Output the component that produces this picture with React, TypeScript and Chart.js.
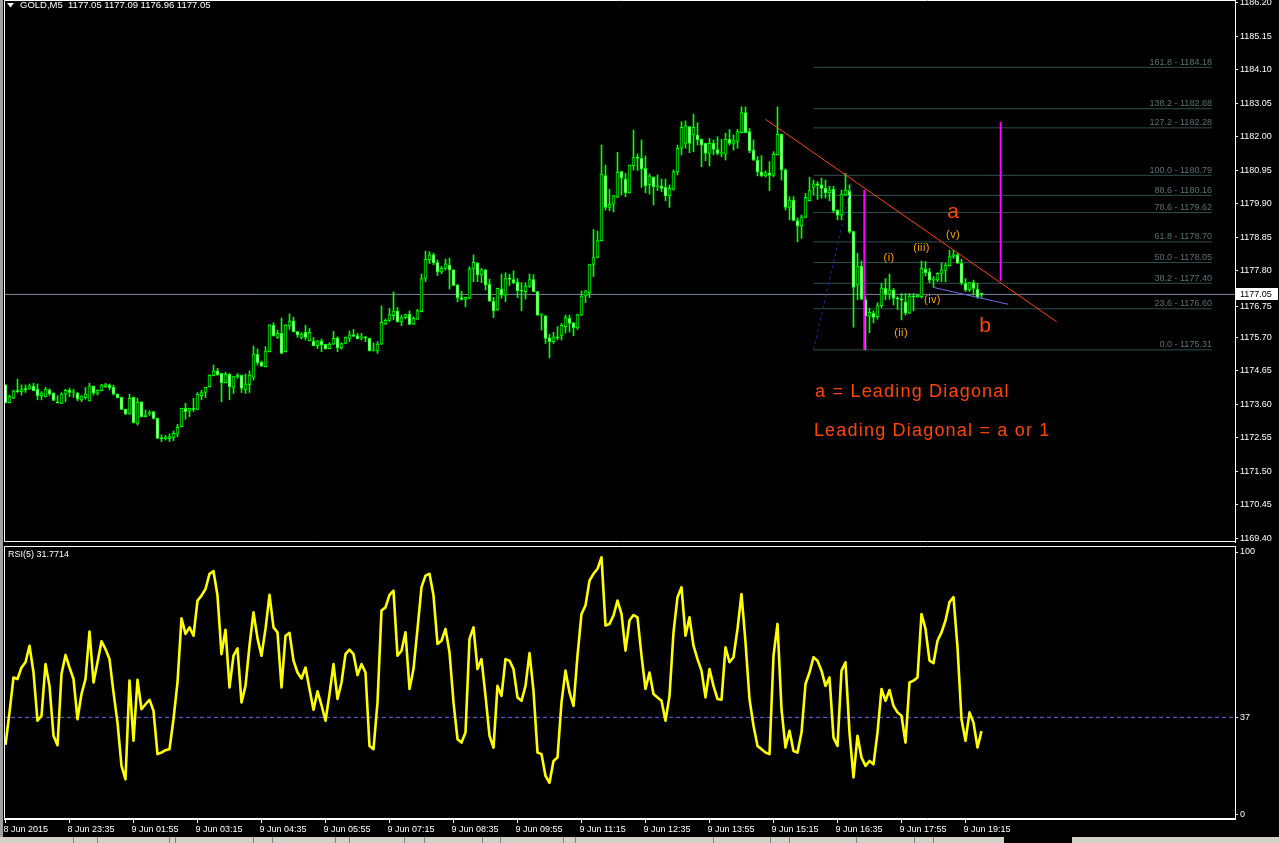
import React, { useEffect, useRef } from "react";
import { Chart, registerables } from "chart.js";

Chart.register(...registerables);

// ---------- DATA (GOLD, M5) ----------
const OPEN = [
  1174.21,1173.65,1173.79,1174.02,1174.00,1174.08,1174.08,1174.17,1174.07,1173.87,
  1173.84,1174.05,1173.95,1173.67,1173.63,1173.92,1174.05,1173.97,1173.95,1173.74,
  1173.81,1173.71,1174.17,1173.95,1174.03,1174.15,1174.21,1174.13,1173.92,1173.82,
  1173.44,1173.30,1173.82,1173.00,1173.67,1173.21,1173.30,1173.37,1173.16,1172.55,
  1172.52,1172.52,1172.56,1172.66,1172.90,1173.47,1173.39,1173.47,1173.44,1173.87,
  1173.97,1174.15,1174.50,1174.65,1174.57,1174.28,1174.55,1174.13,1174.47,1174.51,
  1174.05,1174.21,1174.45,1175.17,1174.92,1174.78,1175.25,1176.09,1175.70,1175.83,
  1175.25,1176.06,1176.22,1175.88,1175.70,1175.86,1175.60,1175.58,1175.44,1175.59,
  1175.48,1175.35,1175.49,1175.69,1175.36,1175.51,1175.67,1175.78,1175.76,1175.68,
  1175.72,1175.67,1175.28,1175.28,1175.49,1176.12,1176.23,1176.38,1176.53,1176.19,
  1176.32,1176.43,1176.12,1176.27,1176.51,1177.55,1178.13,1178.29,1178.05,1177.76,
  1177.87,1177.97,1177.82,1177.35,1176.95,1176.89,1176.93,1177.85,1178.03,1177.66,
  1177.82,1177.37,1176.84,1176.56,1177.22,1177.03,1177.55,1177.52,1177.44,1177.17,
  1177.14,1177.31,1177.52,1177.14,1176.40,1176.38,1175.69,1175.57,1175.72,1175.76,
  1176.04,1176.30,1176.16,1176.00,1176.40,1177.00,1177.10,1177.99,1178.21,1178.74,
  1180.78,1179.78,1179.88,1180.10,1180.91,1180.67,1180.24,1181.09,1181.35,1181.32,
  1181.01,1180.49,1180.73,1180.43,1180.45,1180.41,1180.14,1180.35,1180.90,1181.64,
  1181.80,1182.32,1182.06,1182.06,1181.92,1181.79,1181.48,1181.79,1181.60,1181.48,
  1181.45,1181.93,1181.79,1181.85,1182.13,1182.76,1182.16,1181.58,1181.27,1180.90,
  1180.77,1180.87,1180.79,1181.43,1182.08,1180.96,1179.78,1180.01,1179.37,1179.20,
  1179.47,1179.99,1180.41,1180.52,1180.49,1180.38,1180.24,1180.35,1179.70,1179.54,
  1180.17,1180.33,1179.02,1177.35,1177.94,1176.88,1176.37,1176.46,1176.35,1176.70,
  1177.24,1177.06,1177.19,1176.93,1176.91,1176.82,1176.46,1177.00,1176.97,1176.98,
  1177.84,1177.76,1177.50,1177.50,1177.71,1177.80,1177.95,1178.24,1178.29,1178.03,
  1177.40,1177.19,1177.42,1177.21,1177.05,
];
const HIGH = [
  1174.22,1173.89,1174.04,1174.39,1174.21,1174.21,1174.24,1174.26,1174.24,1174.00,
  1174.13,1174.09,1173.96,1173.87,1173.97,1174.07,1174.11,1174.07,1173.97,1173.87,
  1174.13,1174.26,1174.18,1174.06,1174.22,1174.26,1174.24,1174.20,1173.93,1173.83,
  1173.45,1173.92,1173.83,1173.79,1173.69,1173.42,1173.40,1173.38,1173.17,1172.64,
  1172.62,1172.67,1172.76,1172.97,1173.48,1173.63,1173.48,1173.79,1173.97,1174.04,
  1174.14,1174.53,1174.83,1174.73,1174.58,1174.61,1174.56,1174.48,1174.57,1174.52,
  1174.55,1174.65,1175.43,1175.34,1174.96,1175.41,1176.10,1176.16,1175.93,1176.31,
  1176.10,1176.44,1176.33,1175.89,1175.85,1176.08,1175.98,1175.70,1175.60,1175.65,
  1175.49,1175.54,1175.89,1175.72,1175.53,1175.71,1175.90,1175.95,1175.83,1175.83,
  1175.73,1175.68,1175.53,1175.57,1176.69,1176.28,1176.61,1177.13,1176.64,1176.40,
  1176.43,1176.53,1176.35,1176.58,1177.69,1178.41,1178.39,1178.35,1178.13,1177.93,
  1178.16,1178.19,1177.83,1177.36,1177.15,1176.97,1177.92,1178.29,1178.06,1177.87,
  1177.83,1177.53,1176.96,1177.25,1177.69,1177.73,1177.69,1177.79,1177.55,1177.42,
  1177.42,1177.69,1177.67,1177.15,1176.45,1176.39,1175.80,1175.86,1176.04,1176.14,
  1176.40,1176.40,1176.17,1176.43,1177.16,1177.17,1178.00,1179.09,1179.04,1181.74,
  1181.11,1180.35,1180.16,1181.51,1180.92,1180.85,1181.12,1182.21,1181.46,1181.90,
  1181.40,1180.83,1180.74,1180.80,1180.67,1180.67,1180.49,1180.96,1181.74,1182.47,
  1182.50,1182.33,1182.71,1182.44,1181.93,1181.80,1181.95,1181.90,1182.00,1181.92,
  1182.11,1182.23,1182.06,1182.23,1182.94,1182.94,1182.26,1181.90,1181.38,1181.41,
  1180.93,1181.22,1181.53,1182.94,1182.09,1180.99,1180.12,1180.12,1179.45,1179.54,
  1180.22,1180.73,1180.64,1180.59,1180.70,1180.64,1180.45,1180.45,1179.71,1180.33,
  1180.85,1180.49,1179.04,1178.34,1178.10,1176.98,1176.61,1176.54,1176.79,1177.40,
  1177.55,1177.69,1177.24,1176.98,1177.08,1177.08,1177.08,1177.08,1177.06,1178.10,
  1178.08,1177.87,1177.61,1177.73,1178.03,1178.03,1178.44,1178.44,1178.34,1178.15,
  1177.55,1177.43,1177.50,1177.40,1177.09,
];
const LOW = [
  1173.64,1173.64,1173.78,1173.97,1173.89,1173.97,1174.07,1174.02,1173.74,1173.74,
  1173.83,1173.88,1173.71,1173.63,1173.62,1173.68,1173.84,1173.82,1173.71,1173.68,
  1173.76,1173.70,1173.89,1173.89,1174.02,1174.13,1174.05,1173.89,1173.80,1173.43,
  1173.28,1173.29,1173.01,1172.95,1173.20,1173.20,1173.25,1173.13,1172.52,1172.43,
  1172.48,1172.43,1172.46,1172.58,1172.89,1173.13,1173.21,1173.37,1173.43,1173.74,
  1173.81,1174.14,1174.49,1174.51,1173.68,1174.27,1173.74,1173.94,1174.41,1173.97,
  1173.94,1173.97,1174.36,1174.83,1174.79,1174.77,1175.24,1175.74,1175.67,1175.19,
  1175.24,1175.95,1175.87,1175.70,1175.65,1175.62,1175.59,1175.43,1175.35,1175.25,
  1175.33,1175.34,1175.48,1175.25,1175.33,1175.50,1175.57,1175.72,1175.65,1175.62,
  1175.57,1175.27,1175.27,1175.20,1175.48,1176.10,1176.20,1176.25,1176.18,1176.07,
  1176.28,1176.10,1176.11,1176.26,1176.50,1177.45,1178.02,1177.98,1177.64,1177.70,
  1177.82,1177.22,1177.32,1176.82,1176.87,1176.66,1176.92,1177.45,1177.45,1177.42,
  1177.19,1176.83,1176.32,1176.55,1176.93,1176.82,1177.33,1177.38,1176.95,1176.54,
  1176.90,1177.27,1177.13,1176.39,1175.93,1175.51,1175.06,1175.51,1175.62,1175.62,
  1175.84,1175.87,1175.75,1175.95,1176.39,1176.79,1176.95,1177.61,1178.20,1178.73,
  1179.70,1179.68,1179.64,1180.09,1180.17,1180.12,1180.23,1180.96,1180.94,1180.41,
  1180.24,1180.20,1179.86,1180.31,1180.27,1179.99,1179.78,1180.33,1180.80,1181.43,
  1181.64,1181.50,1181.53,1181.74,1181.06,1181.25,1181.08,1181.43,1181.43,1181.37,
  1181.27,1181.74,1181.58,1181.64,1182.12,1182.12,1181.50,1181.25,1180.77,1180.75,
  1180.73,1180.31,1180.75,1181.42,1180.64,1179.70,1179.39,1179.36,1178.70,1178.81,
  1179.46,1179.98,1180.17,1180.03,1180.07,1180.07,1179.99,1179.62,1179.39,1179.39,
  1180.16,1178.97,1176.02,1176.88,1176.89,1175.31,1175.85,1176.16,1176.27,1176.64,
  1176.88,1176.90,1176.72,1176.58,1176.25,1176.40,1176.45,1176.54,1176.95,1176.93,
  1177.63,1177.42,1177.27,1177.45,1177.45,1177.45,1177.94,1178.18,1178.02,1177.35,
  1177.14,1177.14,1177.03,1176.93,1176.96,
];
const CLOSE = [
  1173.65,1173.84,1174.02,1174.00,1174.08,1174.06,1174.18,1174.03,1173.87,1173.95,
  1174.08,1173.92,1173.72,1173.65,1173.92,1174.04,1173.97,1174.00,1173.76,1173.86,
  1173.92,1174.18,1173.95,1174.05,1174.21,1174.22,1174.12,1173.92,1173.81,1173.44,
  1173.29,1173.79,1173.02,1173.67,1173.21,1173.27,1173.34,1173.16,1172.53,1172.52,
  1172.57,1172.59,1172.69,1172.88,1173.47,1173.37,1173.47,1173.44,1173.91,1173.97,
  1174.13,1174.52,1174.65,1174.52,1174.28,1174.55,1174.15,1174.47,1174.51,1174.10,
  1174.24,1174.52,1175.18,1174.91,1174.80,1175.27,1176.09,1175.75,1175.83,1175.20,
  1176.09,1176.22,1175.88,1175.78,1175.81,1175.70,1175.86,1175.44,1175.59,1175.46,
  1175.34,1175.49,1175.67,1175.38,1175.51,1175.70,1175.78,1175.74,1175.66,1175.72,
  1175.69,1175.28,1175.31,1175.49,1176.17,1176.24,1176.42,1176.53,1176.19,1176.32,
  1176.42,1176.11,1176.30,1176.54,1177.55,1178.15,1178.29,1178.05,1177.76,1177.87,
  1178.01,1177.82,1177.33,1176.95,1176.89,1176.96,1177.85,1178.06,1177.66,1177.82,
  1177.35,1176.84,1176.53,1177.24,1177.03,1177.55,1177.53,1177.42,1177.17,1177.15,
  1177.31,1177.52,1177.14,1176.40,1176.42,1175.67,1175.57,1175.72,1175.68,1176.09,
  1176.32,1176.14,1176.00,1176.42,1177.00,1177.16,1177.99,1178.21,1178.74,1180.83,
  1179.78,1179.88,1180.15,1180.88,1180.70,1180.24,1181.11,1181.35,1181.33,1180.98,
  1180.46,1180.77,1180.43,1180.45,1180.38,1180.14,1180.38,1180.90,1181.64,1182.30,
  1182.34,1181.79,1182.30,1181.90,1181.74,1181.48,1181.79,1181.60,1181.48,1181.50,
  1181.93,1181.79,1181.88,1182.16,1182.76,1182.13,1181.56,1181.27,1180.90,1180.77,
  1180.87,1180.79,1181.45,1182.08,1180.96,1179.78,1180.01,1179.37,1179.20,1179.49,
  1180.10,1180.31,1180.52,1180.47,1180.38,1180.24,1180.33,1179.68,1179.54,1180.20,
  1180.33,1179.02,1177.27,1177.94,1176.90,1176.37,1176.49,1176.33,1176.70,1177.26,
  1177.06,1177.19,1176.93,1176.91,1176.87,1176.46,1177.00,1176.97,1177.03,1177.87,
  1177.73,1177.50,1177.54,1177.71,1177.82,1177.97,1178.24,1178.29,1178.03,1177.40,
  1177.19,1177.42,1177.24,1176.96,1177.05,
];
const RSI = [
  26.5,38.9,52.2,51.6,56.0,58.0,64.3,54.1,35.7,37.6,
  57.3,49.0,30.0,26.4,53.5,60.8,56.0,51.6,36.3,45.9,
  51.6,69.7,50.3,58.0,66.0,63.0,59.2,46.5,35.0,18.5,
  13.4,51.0,28.1,51.3,40.1,42.0,43.7,39.5,23.0,23.6,
  24.5,24.9,36.3,50.3,74.7,68.8,71.3,68.1,81.5,83.4,
  85.9,91.7,92.7,83.4,61.1,70.4,48.4,60.5,63.3,42.7,
  49.0,64.3,77.0,67.1,60.5,70.7,83.7,71.3,69.4,48.4,
  68.1,69.2,58.6,54.1,51.8,56.0,47.8,39.9,46.9,41.7,
  35.7,45.9,57.3,44.0,50.3,61.1,62.8,61.1,53.1,57.3,
  54.1,26.1,24.9,42.7,77.7,78.9,83.7,85.3,60.5,62.4,
  69.4,47.8,55.4,70.7,86.6,91.0,91.7,83.4,65.0,66.2,
  70.7,61.8,42.7,28.7,27.4,31.2,66.9,71.3,55.4,59.2,
  45.2,30.0,25.5,49.0,45.2,59.2,58.6,55.4,44.6,43.3,
  49.0,61.5,47.1,23.6,23.0,14.7,12.1,20.4,21.7,42.7,
  54.8,46.5,41.4,60.5,76.4,79.6,89.1,91.7,93.6,98.0,
  72.0,72.6,75.8,81.5,76.4,62.4,73.9,76.0,75.1,60.5,
  47.8,54.1,45.9,44.6,43.3,35.7,45.2,69.4,82.8,86.6,
  68.1,75.1,64.3,59.2,54.8,44.6,55.4,49.0,44.0,43.7,
  63.7,58.0,59.9,70.7,84.0,65.6,44.0,33.8,26.1,24.9,
  23.6,23.0,60.5,72.6,40.1,25.5,31.9,24.2,23.6,31.2,
  49.7,54.1,59.9,58.6,54.8,49.0,52.2,29.3,26.1,54.8,
  58.0,31.2,14.1,30.0,21.7,18.5,20.4,19.1,31.2,47.8,
  43.3,47.4,41.4,38.9,37.6,27.4,50.3,51.0,52.2,76.4,
  70.7,58.6,57.7,66.2,69.4,73.9,80.9,82.8,63.7,36.3,
  28.1,38.9,35.0,25.5,31.77,
];

const PRICE_TICKS = [
  1186.2, 1185.15, 1184.1, 1183.05, 1182.0, 1180.95, 1179.9, 1178.85, 1177.8,
  1176.75, 1175.7, 1174.65, 1173.6, 1172.55, 1171.5, 1170.45, 1169.4,
];
const RSI_TICKS = [0, 37, 100];
const RSI_LEVEL = 37;
const TIME_TICK_BARS = [0, 16, 32, 48, 64, 80, 96, 112, 128, 144, 160, 176, 192, 208, 224, 240];
const TIME_LABELS = [
  "8 Jun 2015", "8 Jun 23:35", "9 Jun 01:55", "9 Jun 03:15", "9 Jun 04:35", "9 Jun 05:55",
  "9 Jun 07:15", "9 Jun 08:35", "9 Jun 09:55", "9 Jun 11:15", "9 Jun 12:35", "9 Jun 13:55",
  "9 Jun 15:15", "9 Jun 16:35", "9 Jun 17:55", "9 Jun 19:15",
];
const CURRENT_PRICE = 1177.05;
const TITLE_SYMBOL = "GOLD,M5";
const TITLE_OHLC = "1177.05 1177.09 1176.96 1177.05";
const RSI_TITLE = "RSI(5) 31.7714";

// Fibonacci retracement
const FIB_LEVELS = [161.8, 138.2, 127.2, 100.0, 88.6, 78.6, 61.8, 50.0, 38.2, 23.6, 0.0];
const FIB_PRICES = [1184.18, 1182.88, 1182.28, 1180.79, 1180.16, 1179.62, 1178.7, 1178.05, 1177.4, 1176.6, 1175.31];
const FIB_START_BAR = 202;
const FIB_END_BAR = 301.6;
const FIB_BASE = [[202, 1175.31], [212, 1180.79]];

// drawn objects (bar index, price)
const TREND_RED = [[190, 1182.55], [262.8, 1176.19]];
const TREND_BLUE = [[232, 1177.27], [250.7, 1176.74]];
const MAGENTA_1 = [[214.7, 1180.33], [214.7, 1175.31]];
const MAGENTA_2 = [[248.8, 1182.47], [248.8, 1177.48]];
const WAVE_TEXT = ["(i)", "(ii)", "(iii)", "(iv)", "(v)"];
const WAVE_BAR = [220.9, 223.9, 229.0, 231.75, 236.9];
const WAVE_PRICE = [1178.19, 1175.84, 1178.51, 1176.87, 1178.93];
const BIG_TEXT = ["a", "b"];
const BIG_BAR = [236.9, 244.9];
const BIG_PRICE = [1179.62, 1176.06];
const NOTES = ["a = Leading Diagonal", "Leading Diagonal = a or 1"];
const NOTE_BAR = [202.4, 202.1];
const NOTE_PRICE = [1173.99, 1172.76];

const TAB_SEPARATORS = [73, 97, 169, 175, 253, 272, 335, 349, 404, 424, 482, 500, 563, 575, 713, 770, 789, 856, 914, 933];

// ---------- layout constants ----------
const FONT = '"Liberation Sans", Arial, sans-serif';
const X_MIN = -0.375;
const X_MAX = 307.375;
const Y_MIN = 1169.277;
const Y_MAX = 1186.294;
const R_MIN = -1.72;
const R_MAX = 102.29;

const seg = (pts: number[][]) => pts.map(([x, y]) => ({ x, y }));
const lineDs = (pts: number[][], color: string, width: number, order: number, dash: number[] = []) => ({
  type: "line" as const,
  data: seg(pts),
  borderColor: color,
  borderWidth: width,
  borderDash: dash,
  pointRadius: 0,
  pointHoverRadius: 0,
  tension: 0,
  fill: false,
  order,
});

const noPad = (s: any) => {
  s.paddingTop = 0;
  s.paddingBottom = 0;
  s.paddingLeft = 0;
  s.paddingRight = 0;
};

const framePlugin = {
  id: "frame",
  afterDraw(chart: any) {
    const { ctx, chartArea: a } = chart;
    ctx.save();
    ctx.strokeStyle = "#ffffff";
    ctx.lineWidth = 1;
    ctx.beginPath();
    ctx.moveTo(a.right, a.top + 0.5);
    ctx.lineTo(a.left + 0.5, a.top + 0.5);
    ctx.lineTo(a.left + 0.5, a.bottom - 0.5);
    ctx.lineTo(a.right, a.bottom - 0.5);
    ctx.stroke();
    ctx.restore();
  },
};

const mainOverlay = {
  id: "mainOverlay",
  afterDraw(chart: any) {
    const { ctx } = chart;
    const x = chart.scales.x;
    const y = chart.scales.y;
    ctx.save();
    // fib labels
    ctx.font = `9px ${FONT}`;
    ctx.fillStyle = "#5a7272";
    ctx.textAlign = "right";
    ctx.textBaseline = "alphabetic";
    FIB_LEVELS.forEach((lv, k) => {
      ctx.fillText(`${lv.toFixed(1)} - ${FIB_PRICES[k].toFixed(2)}`, x.getPixelForValue(FIB_END_BAR), y.getPixelForValue(FIB_PRICES[k]) - 2.5);
    });
    // wave labels
    ctx.font = `11px ${FONT}`;
    ctx.fillStyle = "#ffa500";
    ctx.textAlign = "center";
    ctx.textBaseline = "middle";
    (ctx as any).letterSpacing = "0.4px";
    WAVE_TEXT.forEach((t, k) => ctx.fillText(t, x.getPixelForValue(WAVE_BAR[k]), y.getPixelForValue(WAVE_PRICE[k])));
    (ctx as any).letterSpacing = "0px";
    // a / b
    ctx.font = `21px ${FONT}`;
    ctx.fillStyle = "#ff4500";
    BIG_TEXT.forEach((t, k) => ctx.fillText(t, x.getPixelForValue(BIG_BAR[k]), y.getPixelForValue(BIG_PRICE[k])));
    // notes
    ctx.font = `18px ${FONT}`;
    ctx.textAlign = "left";
    (ctx as any).letterSpacing = "1.2px";
    NOTES.forEach((t, k) => ctx.fillText(t, x.getPixelForValue(NOTE_BAR[k]), y.getPixelForValue(NOTE_PRICE[k])));
    (ctx as any).letterSpacing = "0px";
    // title
    ctx.fillStyle = "#ffffff";
    ctx.beginPath();
    ctx.moveTo(7, 3);
    ctx.lineTo(14, 3);
    ctx.lineTo(10.5, 7.5);
    ctx.closePath();
    ctx.fill();
    ctx.font = `9.5px ${FONT}`;
    ctx.textAlign = "left";
    ctx.textBaseline = "middle";
    ctx.fillText(`${TITLE_SYMBOL}  ${TITLE_OHLC}`, 20, 5.5);
    // current price box
    ctx.font = `9px ${FONT}`;
    const py = Math.round(y.getPixelForValue(CURRENT_PRICE));
    ctx.fillStyle = "#ffffff";
    ctx.fillRect(1236, py - 6, 42, 12);
    ctx.fillStyle = "#000000";
    ctx.fillText(CURRENT_PRICE.toFixed(2), 1240, py + 0.5);
    ctx.restore();
  },
};

const rsiOverlay = {
  id: "rsiOverlay",
  afterDraw(chart: any) {
    const { ctx } = chart;
    ctx.save();
    ctx.font = `9px ${FONT}`;
    ctx.fillStyle = "#ffffff";
    ctx.textAlign = "left";
    ctx.textBaseline = "middle";
    ctx.fillText(RSI_TITLE, 8, 9.5);
    ctx.restore();
  },
};

export default function App() {
  const mainRef = useRef<HTMLCanvasElement>(null);
  const rsiRef = useRef<HTMLCanvasElement>(null);

  useEffect(() => {
    document.body.style.margin = "0";
    document.body.style.background = "#000";

    const wickData = CLOSE.map((_, i) => ({ x: i, y: [LOW[i], HIGH[i]] }));
    const bodyData = CLOSE.map((c, i) => ({ x: i, y: [OPEN[i], c] }));
    const bodyFill = CLOSE.map((c, i) => (c > OPEN[i] ? "#000000" : "#ffffff"));

    const main = new Chart(mainRef.current as HTMLCanvasElement, {
      type: "bar",
      data: {
        datasets: [
          lineDs([[X_MIN, CURRENT_PRICE], [X_MAX, CURRENT_PRICE]], "#778899", 1, 6),
          ...FIB_PRICES.map((p) => lineDs([[FIB_START_BAR, p], [FIB_END_BAR, p]], "#2f4f4f", 1, 5)),
          {
            type: "bar",
            data: wickData as any,
            backgroundColor: "#00ff00",
            borderWidth: 0,
            barThickness: 1,
            grouped: false,
            order: 3,
          } as any,
          {
            type: "bar",
            data: bodyData as any,
            backgroundColor: bodyFill,
            borderColor: "#00ff00",
            borderWidth: 1,
            borderSkipped: false,
            barThickness: 3,
            minBarLength: 1,
            grouped: false,
            order: 2,
          } as any,
          lineDs(FIB_BASE, "#25259a", 1, 1, [3, 3]),
          lineDs(TREND_RED, "#ff4500", 1, 0),
          lineDs(TREND_BLUE, "#7b68ee", 1, 0),
          lineDs(MAGENTA_1, "#ff00ff", 2, 0),
          lineDs(MAGENTA_2, "#ff00ff", 2, 0),
        ] as any,
      },
      options: {
        responsive: false,
        maintainAspectRatio: false,
        animation: false,
        devicePixelRatio: 1,
        events: [],
        layout: { padding: { left: 4, top: 0, right: 0, bottom: 2 } },
        plugins: { legend: { display: false }, tooltip: { enabled: false } },
        scales: {
          x: { type: "linear", min: X_MIN, max: X_MAX, offset: false, display: false },
          y: {
            type: "linear",
            position: "right",
            min: Y_MIN,
            max: Y_MAX,
            bounds: "data",
            afterFit: (s: any) => {
              s.width = 44;
              noPad(s);
            },
            afterBuildTicks: (s: any) => {
              s.ticks = PRICE_TICKS.map((v) => ({ value: Math.abs(v - CURRENT_PRICE) < 0.35 ? v - 0.075 : v }));
            },
            ticks: {
              color: "#ffffff",
              font: { family: FONT, size: 9 },
              padding: 2,
              autoSkip: false,
              callback: (_v: any, i: number) => PRICE_TICKS[i].toFixed(2),
            },
            grid: { drawOnChartArea: false, drawTicks: true, tickLength: 3, color: "#ffffff" },
            border: { display: true, color: "#ffffff" },
          },
        },
      } as any,
      plugins: [framePlugin, mainOverlay],
    });

    const rsi = new Chart(rsiRef.current as HTMLCanvasElement, {
      type: "line",
      data: {
        datasets: [
          lineDs([[X_MIN, RSI_LEVEL], [X_MAX, RSI_LEVEL]], "#6a6af0", 1, 1, [4, 3]),
          {
            type: "line",
            data: RSI.map((r, i) => ({ x: i, y: r })),
            borderColor: "#ffff00",
            borderWidth: 2.6,
            borderJoinStyle: "round",
            pointRadius: 0,
            pointHoverRadius: 0,
            tension: 0,
            fill: false,
            order: 0,
          },
        ] as any,
      },
      options: {
        responsive: false,
        maintainAspectRatio: false,
        animation: false,
        devicePixelRatio: 1,
        events: [],
        layout: { padding: { left: 4, top: 1, right: 0, bottom: 0 } },
        plugins: { legend: { display: false }, tooltip: { enabled: false } },
        scales: {
          x: {
            type: "linear",
            position: "bottom",
            min: X_MIN,
            max: X_MAX,
            offset: false,
            afterFit: (s: any) => {
              s.height = 17;
              noPad(s);
            },
            afterBuildTicks: (s: any) => {
              s.ticks = TIME_TICK_BARS.map((v) => ({ value: v }));
            },
            ticks: {
              color: "#ffffff",
              font: { family: FONT, size: 9 },
              autoSkip: false,
              maxRotation: 0,
              minRotation: 0,
              align: "start",
              labelOffset: -2,
              padding: 1,
              callback: (_v: any, i: number) => TIME_LABELS[i],
            },
            grid: { drawOnChartArea: false, drawTicks: true, tickLength: 4, color: "#ffffff" },
            border: { display: true, color: "#ffffff" },
          },
          y: {
            type: "linear",
            position: "right",
            min: R_MIN,
            max: R_MAX,
            bounds: "data",
            afterFit: (s: any) => {
              s.width = 44;
              noPad(s);
            },
            afterBuildTicks: (s: any) => {
              s.ticks = RSI_TICKS.map((v) => ({ value: v }));
            },
            ticks: {
              color: "#ffffff",
              font: { family: FONT, size: 9 },
              padding: 2,
              autoSkip: false,
              callback: (_v: any, i: number) => String(RSI_TICKS[i]),
            },
            grid: { drawOnChartArea: false, drawTicks: true, tickLength: 3, color: "#ffffff" },
            border: { display: true, color: "#ffffff" },
          },
        },
      } as any,
      plugins: [framePlugin, rsiOverlay],
    });

    return () => {
      main.destroy();
      rsi.destroy();
    };
  }, []);

  return (
    <div style={{ position: "relative", width: 1279, height: 843, background: "#000", overflow: "hidden" }}>
      <div style={{ position: "absolute", left: 0, top: 0, width: 3, height: 843, background: "#a0a0a0" }} />
      <canvas ref={mainRef} width={1279} height={544} style={{ position: "absolute", left: 0, top: 0, width: 1279, height: 544 }} />
      <canvas ref={rsiRef} width={1279} height={291} style={{ position: "absolute", left: 0, top: 545, width: 1279, height: 291 }} />
      <div style={{ position: "absolute", left: 0, top: 837, width: 1004, height: 6, background: "#d4d0c8" }} />
      <div style={{ position: "absolute", left: 1072, top: 837, width: 207, height: 6, background: "#d4d0c8" }} />
      {TAB_SEPARATORS.map((sx) => (
        <div key={sx} style={{ position: "absolute", left: sx, top: 837, width: 1, height: 6, background: "#808080" }} />
      ))}
    </div>
  );
}
